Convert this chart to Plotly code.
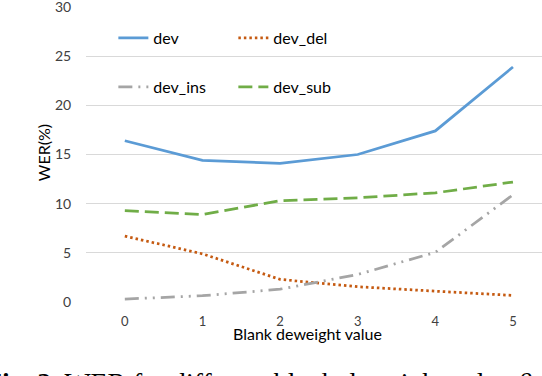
import plotly.graph_objects as go

# blank deweight values on the x axis
deweight = [0, 1, 2, 3, 4, 5]

# WER (%)
dev = [16.4, 14.4, 14.1, 15.0, 17.4, 23.9]
dev_del = [6.7, 4.9, 2.3, 1.55, 1.1, 0.67]
dev_ins = [0.3, 0.64, 1.3, 2.8, 5.05, 10.9]
dev_sub = [9.3, 8.9, 10.3, 10.6, 11.1, 12.2]

y_ticks = [0, 5, 10, 15, 20, 25, 30]

FONT = "Lato"

fig = go.Figure()

fig.add_trace(go.Scatter(
    x=deweight, y=dev, mode="lines", name="dev",
    line=dict(color="#5B9BD5", width=2.75),
    legend="legend",
))
fig.add_trace(go.Scatter(
    x=deweight, y=dev_del, mode="lines", name="dev_del",
    line=dict(color="#C55A11", width=2.75, dash="2.5px,3px"),
    legend="legend",
))
fig.add_trace(go.Scatter(
    x=deweight, y=dev_ins, mode="lines", name="dev_ins",
    line=dict(color="#A5A5A5", width=2.75, dash="14px,6px,2px,6px,2px,6px"),
    legend="legend2",
))
fig.add_trace(go.Scatter(
    x=deweight, y=dev_sub, mode="lines", name="dev_sub",
    line=dict(color="#70AD47", width=2.75, dash="14px,6px"),
    legend="legend2",
))

fig.update_xaxes(
    range=[-0.5, 5.374],
    tickvals=deweight,
    showgrid=False,
    zeroline=False,
    showline=False,
    ticks="outside", ticklen=7, tickcolor="rgba(0,0,0,0)",
    tickfont=dict(family=FONT, size=13, color="#404040"),
    ticklabeloverflow="allow",
)
fig.update_yaxes(
    range=[0, 30],
    tickvals=y_ticks,
    showgrid=True, gridcolor="#D9D9D9", gridwidth=1,
    zeroline=False,
    showline=False,
    ticks="outside", ticklen=11, tickcolor="rgba(0,0,0,0)",
    tickfont=dict(family=FONT, size=14, color="#404040"),
    ticklabeloverflow="allow",
    automargin=False,
)

legend_style = dict(
    orientation="h",
    xanchor="left", yanchor="middle",
    bgcolor="rgba(0,0,0,0)",
    font=dict(family=FONT, size=16, color="#000000"),
    entrywidth=75,
    itemwidth=30,
)

fig.update_layout(
    width=542, height=376,
    margin=dict(l=86, r=0, t=7, b=74),
    paper_bgcolor="white", plot_bgcolor="white",
    showlegend=True,
    legend=dict(x=0.06, y=0.895, **legend_style),
    legend2=dict(x=0.06, y=0.729, **legend_style),
    annotations=[
        dict(text="Blank deweight value", xref="paper", yref="paper",
             x=0.485, y=-0.108, xanchor="center", yanchor="middle",
             showarrow=False,
             font=dict(family=FONT, size=16, color="#000000")),
        dict(text="WER(%)", xref="paper", yref="paper",
             x=-0.094, y=0.505, xanchor="center", yanchor="middle",
             showarrow=False, textangle=-90,
             font=dict(family=FONT, size=16, color="#000000")),
        dict(text="<b>Fig. 2.</b> WER for different blank deweight value <i>β</i>",
             xref="paper", yref="paper", x=-0.225, y=-0.213,
             xanchor="left", yanchor="top", showarrow=False,
             font=dict(family="Liberation Serif", size=27.7, color="#000000")),
    ],
)

# page body has a default 8px margin; remove it so the figure sits at 0,0
fig.write_html(
    "out.html",
    config={"displayModeBar": False},
    post_script="document.body.style.margin='0';",
)
